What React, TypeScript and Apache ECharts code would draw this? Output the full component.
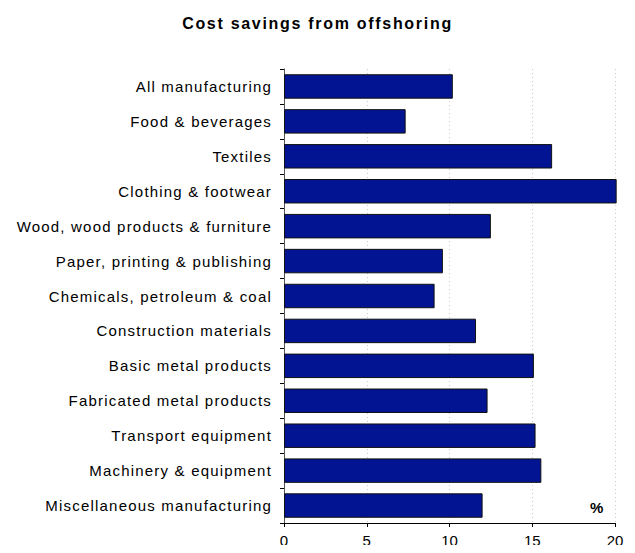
import React, { useEffect, useRef } from "react";
import * as echarts from "echarts";

const title = "Cost savings from offshoring";
const categories = [
  "All manufacturing",
  "Food & beverages",
  "Textiles",
  "Clothing & footwear",
  "Wood, wood products & furniture",
  "Paper, printing & publishing",
  "Chemicals, petroleum & coal",
  "Construction materials",
  "Basic metal products",
  "Fabricated metal products",
  "Transport equipment",
  "Machinery & equipment",
  "Miscellaneous manufacturing",
];
const values = [10.2, 7.35, 16.2, 20.1, 12.5, 9.6, 9.1, 11.6, 15.1, 12.3, 15.2, 15.55, 12.0];
const xTicks = { min: 0, max: 20, interval: 5 };
const unitLabel = "%";

const css = `
.cchart svg text { letter-spacing: 1.2px; }
.cchart svg text[text-anchor="middle"] { letter-spacing: 0px; }
.cchart svg text[style*="bold"] { letter-spacing: 1.7px; }
`;

export default function App() {
  const ref = useRef<HTMLDivElement>(null);
  useEffect(() => {
    if (!ref.current) return;
    const chart = echarts.init(ref.current, null, { renderer: "svg" });
    const font = "'Liberation Sans', Arial, sans-serif";
    chart.setOption({
      animation: false,
      backgroundColor: "#ffffff",
      title: {
        text: title,
        left: "center",
        top: 10,
        textStyle: { fontFamily: font, fontSize: 16, fontWeight: "bold", color: "#000" },
      },
      grid: { left: 284, right: 20, top: 69, bottom: 30, containLabel: false },
      xAxis: {
        type: "value",
        min: xTicks.min,
        max: xTicks.max,
        interval: xTicks.interval,
        axisLine: { show: true, lineStyle: { color: "#000", width: 1 } },
        axisTick: { show: true, length: 4, lineStyle: { color: "#000" } },
        axisLabel: { fontFamily: font, fontSize: 15, color: "#000", margin: 10 },
        splitLine: { show: true, lineStyle: { color: "#c8c8c8", type: [1, 3] } },
      },
      yAxis: {
        type: "category",
        inverse: true,
        data: categories,
        axisLine: { show: true, lineStyle: { color: "#555", width: 1 } },
        axisTick: { show: true, length: 4, lineStyle: { color: "#000" } },
        axisLabel: { fontFamily: font, fontSize: 15, color: "#000", margin: 12 },
        splitLine: { show: false },
      },
      series: [
        {
          type: "bar",
          data: values,
          clip: false,
          barCategoryGap: "30%",
          itemStyle: { color: "#031492", borderColor: "#111", borderWidth: 1 },
        },
      ],
      graphic: [
        {
          type: "text",
          left: 590,
          top: 500,
          style: { text: unitLabel, fontFamily: font, fontSize: 15, fontWeight: "bold", fill: "#000" },
        },
      ],
    });
    return () => chart.dispose();
  }, []);
  return (
    <>
      <style>{css}</style>
      <div className="cchart" ref={ref} style={{ width: 635, height: 553, margin: -8 }} />
    </>
  );
}
